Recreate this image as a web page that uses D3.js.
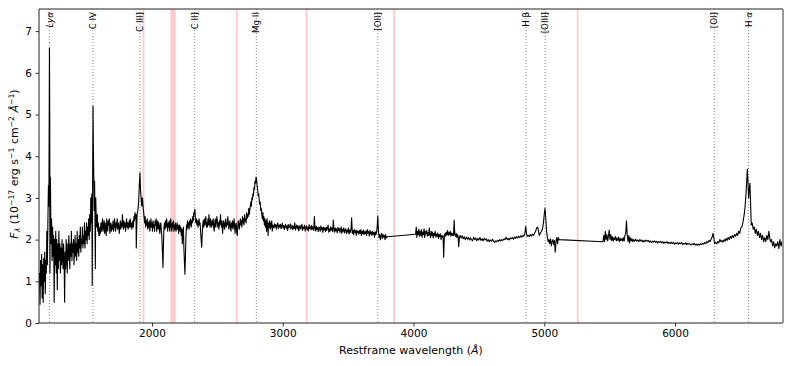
<!DOCTYPE html>
<html>
<head>
<meta charset="utf-8">
<script src="https://cdn.jsdelivr.net/npm/d3@7"></script>
<style>
  body { margin: 0; background: #fff; }
  text { font-family: "DejaVu Sans", sans-serif; }
</style>
</head>
<body>
<div id="container"></div>
<script>
// spectrum: [wavelength (A), flux]
var spectrum = [
  [1140, 1.2], [1144, 0.45], [1148, 1.5], [1152, 0.9], [1156, 1.65], [1160, 0.6], [1164, 1.4], [1168, 0.5],
  [1172, 1.55], [1176, 1.0], [1180, 1.7], [1184, 0.7], [1188, 1.5], [1192, 1.2], [1196, 2.2], [1200, 1.4],
  [1204, 2.4], [1208, 3.3], [1210, 2.8], [1212, 3.2], [1214, 4.8], [1216, 6.6], [1218, 5.0], [1220, 1.2],
  [1223, 3.5], [1226, 2.6], [1229, 1.9], [1232, 2.5], [1236, 1.5], [1240, 2.3], [1244, 1.6], [1248, 2.1],
  [1252, 0.5], [1256, 2.0], [1260, 1.4], [1264, 2.2], [1268, 1.2], [1272, 2.0], [1276, 0.8], [1280, 1.9],
  [1284, 1.3], [1288, 2.2], [1292, 1.5], [1296, 1.9], [1300, 1.2], [1304, 1.8], [1308, 1.4], [1312, 2.0],
  [1316, 1.6], [1320, 1.3], [1324, 1.9], [1328, 1.5], [1332, 0.5], [1336, 1.7], [1340, 1.3], [1344, 2.0],
  [1348, 1.6], [1352, 1.2], [1356, 1.9], [1360, 1.5], [1364, 2.1], [1368, 1.7], [1372, 1.3], [1376, 1.9],
  [1380, 1.6], [1384, 2.2], [1388, 1.5], [1392, 1.9], [1396, 1.7], [1400, 2.0], [1404, 1.4], [1408, 1.8],
  [1412, 2.1], [1416, 1.6], [1420, 1.9], [1424, 1.5], [1428, 2.2], [1432, 1.7], [1436, 2.0], [1440, 1.6],
  [1444, 2.1], [1448, 1.8], [1452, 2.3], [1456, 1.7], [1460, 2.0], [1464, 1.9], [1468, 2.3], [1472, 1.8],
  [1476, 2.1], [1480, 1.9], [1484, 2.4], [1488, 1.8], [1492, 2.2], [1496, 2.0], [1500, 2.4], [1504, 1.9],
  [1508, 2.3], [1512, 2.1], [1516, 2.5], [1520, 2.0], [1524, 2.6], [1528, 2.2], [1532, 3.0], [1536, 2.4],
  [1540, 3.1], [1543, 0.9], [1546, 3.3], [1549, 5.2], [1552, 4.2], [1555, 3.5], [1558, 2.7], [1561, 3.4],
  [1564, 2.6], [1567, 1.3], [1570, 3.0], [1574, 2.5], [1578, 2.3], [1582, 2.6], [1586, 2.2], [1590, 2.4],
  [1594, 2.1], [1598, 2.1], [1602, 2.3], [1606, 2.15], [1610, 2.4], [1614, 2.2], [1618, 2.35], [1622, 2.5],
  [1626, 2.2], [1630, 2.3], [1634, 2.45], [1638, 2.15], [1642, 2.4], [1646, 2.25], [1650, 2.1], [1654, 2.5],
  [1658, 2.3], [1662, 2.2], [1666, 2.45], [1670, 2.35], [1674, 2.5], [1678, 2.15], [1682, 2.3], [1686, 2.4],
  [1690, 2.2], [1694, 2.35], [1698, 2.25], [1702, 2.45], [1706, 2.2], [1710, 2.3], [1714, 2.5], [1718, 2.35],
  [1722, 2.2], [1726, 2.4], [1730, 2.3], [1734, 2.5], [1738, 2.25], [1742, 2.4], [1746, 2.3], [1750, 2.15],
  [1754, 2.35], [1758, 2.45], [1762, 2.25], [1766, 2.4], [1770, 2.3], [1774, 2.6], [1778, 2.35], [1782, 2.25],
  [1786, 2.45], [1790, 2.3], [1794, 2.4], [1798, 2.2], [1802, 2.35], [1806, 2.5], [1810, 2.3], [1814, 2.4],
  [1818, 2.25], [1822, 2.35], [1826, 2.45], [1830, 2.3], [1834, 2.5], [1838, 2.3], [1842, 2.4], [1846, 2.25],
  [1850, 2.35], [1854, 2.45], [1858, 2.3], [1862, 2.55], [1866, 2.45], [1870, 2.65], [1874, 2.5], [1878, 2.6],
  [1880, 1.8], [1886, 2.6], [1892, 2.7], [1898, 2.9], [1903, 3.3], [1908, 3.6], [1912, 3.2], [1917, 3.0],
  [1922, 2.8], [1927, 3.0], [1932, 2.8], [1938, 2.6], [1944, 2.4], [1948, 2.55], [1952, 2.3], [1956, 2.45],
  [1960, 2.35], [1964, 2.5], [1968, 2.25], [1972, 2.4], [1976, 2.3], [1980, 2.45], [1984, 2.2], [1988, 2.35],
  [1992, 2.5], [1996, 2.3], [2000, 2.4], [2004, 2.2], [2008, 2.45], [2012, 2.3], [2016, 2.35], [2020, 2.2],
  [2024, 2.45], [2028, 2.35], [2032, 2.5], [2036, 2.2], [2040, 2.35], [2044, 2.45], [2048, 2.25], [2052, 2.4],
  [2056, 2.3], [2060, 2.15], [2064, 2.35], [2068, 2.4], [2072, 2.2], [2076, 2.05], [2080, 1.7], [2084, 1.33],
  [2088, 1.9], [2092, 2.3], [2096, 2.4], [2100, 2.25], [2104, 2.45], [2108, 2.3], [2112, 2.5], [2116, 2.35],
  [2120, 2.2], [2124, 2.4], [2128, 2.3], [2132, 2.45], [2136, 2.2], [2140, 2.35], [2144, 2.5], [2148, 2.3],
  [2152, 2.2], [2156, 2.4], [2160, 2.3], [2164, 2.45], [2168, 2.2], [2172, 2.35], [2176, 2.25], [2180, 2.4],
  [2184, 2.2], [2188, 2.3], [2192, 2.4], [2196, 2.25], [2200, 2.35], [2204, 2.15], [2208, 2.3], [2212, 2.35],
  [2216, 2.2], [2220, 2.3], [2224, 2.1], [2228, 2.25], [2232, 1.9], [2236, 2.2], [2240, 2.3], [2244, 1.8],
  [2248, 1.5], [2252, 1.17], [2256, 1.6], [2260, 2.1], [2264, 2.35], [2268, 2.25], [2272, 2.45], [2276, 2.3],
  [2280, 2.4], [2284, 2.25], [2288, 2.45], [2292, 2.35], [2296, 2.5], [2300, 2.3], [2304, 2.45], [2308, 2.4],
  [2312, 2.55], [2316, 2.45], [2320, 2.65], [2324, 2.6], [2328, 2.73], [2332, 2.5], [2336, 2.4], [2340, 2.5],
  [2344, 2.35], [2348, 2.45], [2352, 2.3], [2356, 2.4], [2360, 2.5], [2364, 2.35], [2368, 2.4], [2372, 2.2],
  [2376, 2.0], [2380, 1.82], [2384, 2.1], [2388, 2.35], [2392, 2.45], [2396, 2.3], [2400, 2.5], [2404, 2.35],
  [2408, 2.45], [2412, 2.55], [2416, 2.3], [2420, 2.4], [2424, 2.3], [2428, 2.5], [2432, 2.35], [2436, 2.6],
  [2440, 2.4], [2444, 2.3], [2448, 2.5], [2452, 2.4], [2456, 2.3], [2460, 2.45], [2464, 2.35], [2468, 2.5],
  [2472, 2.3], [2476, 2.2], [2480, 2.4], [2484, 2.5], [2488, 2.3], [2492, 2.4], [2496, 2.55], [2500, 2.45],
  [2504, 2.3], [2508, 2.4], [2512, 2.25], [2516, 2.45], [2520, 2.35], [2524, 2.6], [2528, 2.4], [2532, 2.3],
  [2536, 2.45], [2540, 2.15], [2544, 2.3], [2548, 2.45], [2552, 2.35], [2556, 2.25], [2560, 2.4], [2564, 2.5],
  [2568, 2.3], [2572, 2.4], [2576, 2.35], [2580, 2.55], [2584, 2.4], [2588, 2.25], [2592, 2.35], [2596, 2.45],
  [2600, 2.3], [2604, 2.2], [2608, 2.4], [2612, 2.3], [2616, 2.45], [2620, 2.25], [2624, 2.35], [2628, 2.5],
  [2632, 2.3], [2636, 2.15], [2640, 2.35], [2644, 2.4], [2648, 2.2], [2652, 2.1], [2656, 2.3], [2660, 2.45],
  [2664, 2.35], [2668, 2.25], [2672, 2.4], [2676, 2.5], [2680, 2.35], [2684, 2.45], [2688, 2.3], [2692, 2.55],
  [2696, 2.4], [2700, 2.5], [2704, 2.35], [2708, 2.6], [2712, 2.45], [2716, 2.5], [2720, 2.4], [2724, 2.65],
  [2728, 2.5], [2732, 2.6], [2736, 2.55], [2740, 2.75], [2744, 2.6], [2748, 2.7], [2752, 2.8], [2756, 2.9],
  [2760, 2.8], [2764, 3.0], [2768, 2.95], [2772, 3.1], [2776, 3.05], [2780, 3.25], [2784, 3.2], [2788, 3.4],
  [2792, 3.35], [2796, 3.5], [2800, 3.45], [2804, 3.3], [2808, 3.2], [2812, 3.05], [2816, 3.1], [2820, 2.95],
  [2824, 2.85], [2828, 2.9], [2832, 2.7], [2836, 2.75], [2840, 2.6], [2844, 2.5], [2848, 2.65], [2852, 2.45],
  [2856, 2.55], [2860, 2.35], [2864, 2.5], [2868, 2.3], [2872, 2.45], [2876, 2.2], [2880, 2.5], [2884, 2.35],
  [2888, 2.1], [2892, 2.4], [2896, 2.3], [2900, 2.45], [2904, 2.25], [2908, 2.4], [2912, 2.3], [2916, 2.45],
  [2920, 2.2], [2924, 2.35], [2928, 2.3],
  [2932, 2.28], [2937, 2.38], [2942, 2.3], [2947, 2.36], [2952, 2.25], [2957, 2.34], [2962, 2.4], [2967, 2.27], [2972, 2.35], [2977, 2.3],
  [2982, 2.37], [2987, 2.26], [2992, 2.33], [2997, 2.39], [3002, 2.28], [3007, 2.34], [3012, 2.24], [3017, 2.32], [3022, 2.37], [3027, 2.27],
  [3032, 2.33], [3037, 2.22], [3042, 2.36], [3047, 2.28], [3052, 2.31], [3057, 2.38], [3062, 2.25], [3067, 2.3], [3072, 2.35], [3077, 2.24],
  [3082, 2.32], [3087, 2.27], [3092, 2.4], [3097, 2.23], [3102, 2.3], [3107, 2.35], [3112, 2.26], [3117, 2.33], [3122, 2.21], [3127, 2.3],
  [3132, 2.34], [3137, 2.25], [3142, 2.31], [3147, 2.37], [3152, 2.22], [3157, 2.3], [3162, 2.27], [3167, 2.35], [3172, 2.2], [3177, 2.29],
  [3182, 2.33], [3187, 2.24], [3192, 2.3], [3197, 2.21], [3202, 2.36], [3207, 2.27], [3212, 2.31], [3217, 2.23], [3222, 2.34], [3227, 2.25],
  [3232, 2.3], [3237, 2.22], [3242, 2.55], [3247, 2.28], [3252, 2.2], [3257, 2.32], [3262, 2.24], [3267, 2.29], [3272, 2.19], [3277, 2.3],
  [3282, 2.27], [3287, 2.2], [3292, 2.33], [3297, 2.23], [3302, 2.29], [3307, 2.17], [3312, 2.3], [3317, 2.24], [3322, 2.28], [3327, 2.19],
  [3332, 2.3], [3337, 2.22], [3342, 2.27], [3347, 2.35], [3352, 2.18], [3357, 2.26], [3362, 2.2], [3367, 2.31], [3372, 2.23], [3377, 2.27],
  [3382, 2.19], [3387, 2.47], [3392, 2.25], [3397, 2.18], [3402, 2.28], [3407, 2.21], [3412, 2.26], [3417, 2.16], [3422, 2.29], [3427, 2.22],
  [3432, 2.27], [3437, 2.17], [3442, 2.24], [3447, 2.3], [3452, 2.15], [3457, 2.25], [3462, 2.2], [3467, 2.28], [3472, 2.16], [3477, 2.23],
  [3482, 2.26], [3487, 2.14], [3492, 2.22], [3497, 2.18], [3502, 2.28], [3507, 2.13], [3512, 2.23], [3517, 2.17], [3522, 2.25], [3527, 2.52],
  [3532, 2.15], [3537, 2.22], [3542, 2.12], [3547, 2.24], [3552, 2.17], [3557, 2.21], [3562, 2.1], [3567, 2.23], [3572, 2.16], [3577, 2.2],
  [3582, 2.13], [3587, 2.22], [3592, 2.15], [3597, 2.24], [3602, 2.1], [3607, 2.2], [3612, 2.14], [3617, 2.23], [3622, 2.12], [3627, 2.19],
  [3632, 2.14], [3637, 2.21], [3642, 2.1], [3647, 2.24], [3652, 2.16], [3657, 2.19], [3662, 2.08], [3667, 2.22], [3672, 2.13], [3677, 2.18],
  [3682, 2.1], [3687, 2.2], [3692, 2.13], [3697, 2.17], [3702, 2.06], [3707, 2.19], [3712, 2.12], [3717, 2.16], [3722, 2.3], [3727, 2.57],
  [3732, 2.2], [3737, 2.05], [3742, 2.12], [3747, 2.0], [3752, 2.1], [3757, 2.15], [3762, 2.03], [3767, 2.12], [3772, 2.06], [3777, 2.1],
  [3782, 2.0], [3787, 2.12], [3792, 2.04], [3800, 2.07],
  [4016, 2.13], [4021, 2.3], [4026, 2.05], [4031, 2.2], [4036, 2.12], [4041, 2.25], [4046, 2.08], [4051, 2.2],
  [4056, 2.1], [4061, 2.24], [4066, 2.06], [4071, 2.18], [4076, 2.12], [4081, 2.26], [4086, 2.05], [4091, 2.2],
  [4096, 2.14], [4101, 2.22], [4106, 2.08], [4111, 2.17], [4116, 2.1], [4121, 2.28], [4126, 2.12], [4131, 2.05],
  [4136, 2.2], [4141, 2.1], [4146, 2.18], [4151, 2.04], [4156, 2.15], [4161, 2.1], [4166, 2.2], [4171, 2.06],
  [4176, 2.13], [4181, 2.08], [4186, 2.16], [4191, 2.03], [4196, 2.12], [4201, 2.07], [4206, 2.14], [4211, 2.0],
  [4216, 2.1], [4221, 2.05], [4226, 2.1], [4231, 1.58], [4236, 2.05], [4241, 2.15], [4246, 2.08], [4251, 2.18],
  [4256, 2.12], [4261, 2.22], [4266, 2.1], [4271, 2.17], [4276, 2.12], [4281, 2.2], [4286, 2.08], [4291, 2.16],
  [4296, 2.1], [4301, 2.14], [4306, 2.1], [4311, 2.47], [4316, 2.12], [4321, 2.08], [4326, 2.15], [4331, 2.05],
  [4336, 2.12], [4341, 2.08], [4346, 1.83], [4351, 2.05], [4356, 2.1], [4364, 2.04], [4372, 2.09], [4380, 2.02],
  [4388, 2.07], [4396, 2.0], [4404, 2.06], [4412, 2.01], [4420, 2.05], [4428, 1.99], [4436, 2.04], [4444, 2.0],
  [4452, 1.97], [4460, 2.05], [4468, 2.0], [4476, 2.04], [4484, 1.97], [4492, 2.03], [4500, 1.99], [4508, 2.05],
  [4516, 1.98], [4524, 2.02], [4532, 1.97], [4540, 2.03], [4548, 1.99], [4556, 2.02], [4564, 1.96], [4572, 2.0],
  [4580, 1.95], [4588, 1.99], [4596, 1.96], [4604, 2.01], [4612, 1.97], [4620, 1.93], [4628, 1.97], [4636, 1.95],
  [4644, 1.98], [4652, 1.96], [4660, 2.0], [4668, 1.97], [4676, 2.0], [4684, 1.98], [4692, 2.02], [4700, 2.0],
  [4708, 2.06], [4716, 2.0], [4724, 2.03], [4732, 1.99], [4740, 2.04], [4748, 2.02], [4756, 2.05], [4764, 2.01],
  [4772, 2.06], [4780, 2.03], [4788, 2.07], [4796, 2.04], [4804, 2.08], [4812, 2.05], [4820, 2.09], [4828, 2.06],
  [4836, 2.1], [4844, 2.08], [4852, 2.15], [4858, 2.32], [4864, 2.15], [4870, 2.08], [4878, 2.1], [4886, 2.07],
  [4894, 2.12], [4902, 2.09], [4910, 2.13], [4918, 2.1], [4926, 2.15], [4934, 2.2], [4942, 2.28], [4950, 2.3],
  [4956, 2.2], [4962, 2.1], [4970, 2.15], [4978, 2.2], [4986, 2.25], [4994, 2.4], [5000, 2.6], [5006, 2.75],
  [5012, 2.5], [5018, 2.2], [5024, 2.05], [5030, 1.95], [5036, 2.0], [5042, 1.9], [5048, 2.02], [5054, 1.85],
  [5060, 1.95], [5066, 2.0], [5072, 1.88], [5078, 1.98], [5084, 1.7], [5090, 1.95], [5096, 2.05], [5102, 1.9],
  [5108, 2.05], [5113, 2.0],
  [5449, 1.95], [5455, 2.1], [5461, 1.95], [5467, 2.2], [5473, 2.0], [5479, 2.12], [5485, 1.97], [5491, 2.08],
  [5497, 2.23], [5503, 2.0], [5509, 2.12], [5515, 1.98], [5521, 2.07], [5527, 1.96], [5533, 2.05], [5539, 2.0],
  [5545, 2.08], [5551, 1.97], [5557, 2.04], [5563, 1.98], [5569, 2.06], [5575, 1.95], [5581, 2.03], [5587, 1.98],
  [5593, 2.02], [5599, 1.97], [5605, 2.05], [5611, 1.96], [5617, 2.1], [5623, 2.15], [5629, 2.45], [5635, 2.1],
  [5641, 1.95], [5647, 2.1], [5653, 1.92], [5659, 2.05], [5665, 1.97], [5671, 2.02], [5677, 1.95], [5683, 2.0],
  [5691, 1.96], [5699, 2.01], [5707, 1.97], [5715, 1.99], [5723, 1.95], [5731, 2.0], [5739, 1.96], [5747, 1.99],
  [5755, 1.94], [5763, 1.98], [5771, 1.95], [5779, 1.99], [5787, 1.96], [5795, 1.98], [5803, 1.94], [5811, 1.97],
  [5819, 1.93], [5827, 1.96], [5835, 1.94], [5843, 1.97], [5851, 1.93], [5859, 1.96], [5867, 1.92], [5875, 1.95],
  [5883, 1.93], [5891, 1.96], [5899, 1.92], [5907, 1.95], [5915, 1.91], [5923, 1.94], [5931, 1.92], [5939, 1.95],
  [5947, 1.91], [5955, 1.93], [5963, 1.9], [5971, 1.94], [5979, 1.91], [5987, 1.93], [5995, 1.89], [6003, 1.92],
  [6011, 1.9], [6019, 1.93], [6027, 1.89], [6035, 1.92], [6043, 1.9], [6051, 1.93], [6059, 1.88], [6067, 1.91],
  [6075, 1.89], [6083, 1.92], [6091, 1.88], [6099, 1.91], [6107, 1.89], [6115, 1.9], [6123, 1.87], [6131, 1.9],
  [6139, 1.88], [6147, 1.91], [6155, 1.87], [6163, 1.89], [6171, 1.86], [6179, 1.89], [6187, 1.87], [6195, 1.9],
  [6203, 1.88], [6211, 1.91], [6219, 1.89], [6227, 1.93], [6235, 1.9], [6243, 1.95], [6251, 1.93], [6259, 1.98],
  [6267, 1.95], [6275, 2.0], [6283, 2.05], [6291, 2.15], [6297, 2.05], [6303, 1.9], [6311, 1.93], [6319, 1.9],
  [6327, 1.95], [6335, 1.92], [6343, 2.0], [6351, 1.95], [6359, 1.98], [6367, 1.94], [6375, 2.0], [6383, 1.96],
  [6391, 2.03], [6399, 1.98], [6407, 2.05], [6415, 2.0], [6423, 2.08], [6431, 2.03], [6439, 2.1], [6447, 2.05],
  [6455, 2.12], [6463, 2.08], [6471, 2.15], [6479, 2.1], [6487, 2.2], [6495, 2.15], [6503, 2.28], [6511, 2.3],
  [6519, 2.4], [6527, 2.55], [6535, 2.75], [6541, 3.0], [6547, 3.3], [6553, 3.69], [6558, 3.4], [6563, 3.0],
  [6568, 3.2], [6573, 3.35], [6578, 2.9], [6583, 2.35], [6590, 2.4], [6598, 2.25], [6606, 2.3], [6614, 2.15],
  [6622, 2.25], [6630, 2.1], [6638, 2.2], [6646, 2.05], [6654, 2.15], [6662, 2.0], [6670, 2.1], [6678, 1.95],
  [6686, 2.05], [6694, 1.95], [6702, 2.1], [6710, 2.0], [6718, 2.2], [6724, 2.05], [6730, 1.95], [6738, 2.0],
  [6746, 1.85], [6754, 1.95], [6762, 1.8], [6770, 1.9], [6778, 1.85], [6786, 1.95], [6794, 1.78], [6802, 2.0],
  [6810, 1.85], [6818, 1.95], [6824, 1.75]
];

// emission lines marked on the plot
var lineNames = ["Ly\u03b1", "C IV", "C III]", "C II]", "Mg II", "[OII]", "H \u03b2", "[OIII]", "[OI]", "H \u03b1"];
var lineWaves = [1216, 1549, 1909, 2326, 2798, 3727, 4861, 5007, 6300, 6563];

// masked (red) wavelength bands
var maskBands = [[1928, 1942], [2140, 2182], [2641, 2656], [3176, 3190], [3846, 3860], [5249, 5263]];

var xTicks = [2000, 3000, 4000, 5000, 6000];
var yTicks = [0, 1, 2, 3, 4, 5, 6, 7];
var xDomain = [1136, 6826];
var yDomain = [0, 7.53];

const margin = { top: 9, right: 10, bottom: 43, left: 39 },
    width = 793 - margin.left - margin.right,
    height = 366 - margin.top - margin.bottom;

var svg = d3.select("#container")
    .append("svg")
    .attr("width", 793)
    .attr("height", 366)
    .append("g")
    .attr("transform", "translate(" + margin.left + "," + margin.top + ")");

var x = d3.scaleLinear().domain(xDomain).range([0, width]);
var y = d3.scaleLinear().domain(yDomain).range([height, 0]);

svg.append("defs").append("clipPath").attr("id", "clip")
    .append("rect").attr("width", width).attr("height", height);

var plot = svg.append("g").attr("clip-path", "url(#clip)");

// red bands
plot.selectAll("rect.band")
    .data(maskBands)
    .enter()
    .append("rect")
    .attr("class", "band")
    .attr("x", function (d) { return x(d[0]) })
    .attr("width", function (d) { return x(d[1]) - x(d[0]) })
    .attr("y", 0)
    .attr("height", height)
    .attr("fill", "#ffcccc");

// dotted line markers
plot.selectAll("line.em")
    .data(lineWaves)
    .enter()
    .append("line")
    .attr("class", "em")
    .attr("x1", function (d) { return x(d) })
    .attr("x2", function (d) { return x(d) })
    .attr("y1", 0)
    .attr("y2", height)
    .attr("stroke", "#888")
    .attr("stroke-width", 1)
    .attr("stroke-dasharray", "1,2");

// the spectrum
plot.append("path")
    .datum(spectrum)
    .attr("fill", "none")
    .attr("stroke", "#000")
    .attr("stroke-width", 1.1)
    .attr("stroke-linejoin", "round")
    .attr("d", d3.line()
        .x(function (d) { return x(d[0]) })
        .y(function (d) { return y(d[1]) }));

// line labels
svg.selectAll("text.em")
    .data(lineWaves)
    .enter()
    .append("text")
    .attr("class", "em")
    .attr("transform", function (d) { return "translate(" + x(d) + ",3) rotate(-90)" })
    .attr("text-anchor", "end")
    .attr("dy", "0.35em")
    .style("font-size", "8.7px")
    .style("font-style", function (d, i) { return i === 0 ? "italic" : "normal" })
    .text(function (d, i) { return lineNames[i] });

// axes
var xAxis = svg.append("g")
    .attr("transform", "translate(0," + height + ")")
    .call(d3.axisBottom(x).tickValues(xTicks).tickFormat(d3.format("d")).tickSizeOuter(0).tickSize(3.5).tickPadding(3.5));
var yAxis = svg.append("g")
    .call(d3.axisLeft(y).tickValues(yTicks).tickFormat(d3.format("d")).tickSizeOuter(0).tickSize(3.5).tickPadding(3.5));

[xAxis, yAxis].forEach(function (a)
{
    a.selectAll("text").style("font-size", "10.5px").attr("fill", "#000");
    a.selectAll("line").attr("stroke", "#000").attr("stroke-width", 0.8);
    a.select(".domain").remove();
});

// frame
svg.append("line").attr("x1", 0).attr("x2", width).attr("y1", 0).attr("y2", 0).attr("stroke", "#222").attr("stroke-width", 1);
svg.append("line").attr("x1", 0).attr("x2", width).attr("y1", height).attr("y2", height).attr("stroke", "#222").attr("stroke-width", 1);
svg.append("line").attr("x1", 0).attr("x2", 0).attr("y1", 0).attr("y2", height).attr("stroke", "#222").attr("stroke-width", 1);
svg.append("line").attr("x1", width).attr("x2", width).attr("y1", 0).attr("y2", height).attr("stroke", "#999").attr("stroke-width", 2);

// axis labels
var xl = svg.append("text")
    .attr("x", width / 2)
    .attr("y", height + 31)
    .attr("text-anchor", "middle")
    .style("font-size", "11px");
xl.append("tspan").text("Restframe wavelength (");
xl.append("tspan").style("font-style", "italic").text("\u00c5");
xl.append("tspan").text(")");

var yl = svg.append("text")
    .attr("transform", "translate(-21," + (height / 2 - 2) + ") rotate(-90)")
    .attr("text-anchor", "middle")
    .style("font-size", "11px");
yl.append("tspan").style("font-style", "italic").text("F");
yl.append("tspan").style("font-style", "italic").style("font-size", "7.7px").attr("dy", 2).text("\u03bb");
yl.append("tspan").attr("dy", -2).text(" (10");
yl.append("tspan").style("font-size", "7.7px").attr("dy", -4).text("\u221217");
yl.append("tspan").attr("dy", 4).text(" erg s");
yl.append("tspan").style("font-size", "7.7px").attr("dy", -4).text("\u22121");
yl.append("tspan").attr("dy", 4).text(" cm");
yl.append("tspan").style("font-size", "7.7px").attr("dy", -4).text("\u22122");
yl.append("tspan").attr("dy", 4).text(" ");
yl.append("tspan").style("font-style", "italic").text("\u00c5");
yl.append("tspan").style("font-size", "7.7px").attr("dy", -4).text("\u22121");
yl.append("tspan").attr("dy", 4).text(")");
</script>
</body>
</html>
